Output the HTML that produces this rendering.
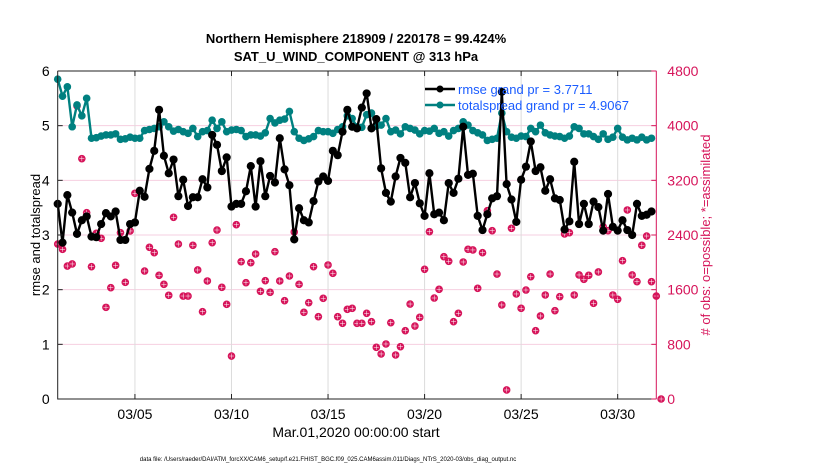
<!DOCTYPE html>
<html><head><meta charset="utf-8">
<style>
html,body{margin:0;padding:0;background:#fff;}
svg{display:block;font-family:"Liberation Sans",Arial,sans-serif;}
</style></head>
<body>
<svg id="chart" width="830" height="470" viewBox="0 0 830 470">
<text x="356" y="43" text-anchor="middle" font-size="13" font-weight="bold">Northern Hemisphere 218909 / 220178 = 99.424%</text>
<text x="356" y="61" text-anchor="middle" font-size="13" font-weight="bold">SAT_U_WIND_COMPONENT @ 313 hPa</text>
<g id="grid"></g>
<g id="series"></g>
<g id="axes"></g>
<text transform="translate(40,235) rotate(-90)" text-anchor="middle" font-size="13">rmse and totalspread</text>
<text transform="translate(710,235) rotate(-90)" text-anchor="middle" font-size="13" fill="#d6145a"># of obs: o=possible; *=assimilated</text>
<text x="356" y="437" text-anchor="middle" font-size="14">Mar.01,2020 00:00:00 start</text>
<text x="328" y="461" text-anchor="middle" font-size="6">data file: /Users/raeder/DAI/ATM_forcXX/CAM6_setup/f.e21.FHIST_BGC.f09_025.CAM6assim.011/Diags_NTrS_2020-03/obs_diag_output.nc</text>
<g>
<line x1="425" y1="89" x2="455" y2="89" stroke="#000" stroke-width="2.5"/>
<circle cx="440" cy="89" r="3.5" fill="#000"/>
<text x="458" y="94" font-size="13" fill="#1a5cff">rmse grand pr = 3.7711</text>
<line x1="425" y1="105" x2="455" y2="105" stroke="#008080" stroke-width="2.5"/>
<circle cx="440" cy="105" r="3.5" fill="#008080"/>
<text x="458" y="110" font-size="13" fill="#1a5cff">totalspread grand pr = 4.9067</text>
</g>
</svg>
<script>
const rmse=[3.57,2.86,3.73,3.41,3.02,3.27,3.34,2.97,2.96,3.20,3.40,3.34,3.43,2.91,2.91,3.20,3.23,3.81,3.70,4.21,4.54,5.29,4.45,4.13,4.38,3.71,
4.01,3.53,3.69,3.69,4.02,3.87,4.83,4.65,4.17,4.42,3.52,3.57,3.57,3.80,4.26,3.52,4.35,3.71,4.08,3.96,4.77,4.20,3.91,2.92,3.49,
3.27,3.23,3.62,3.98,4.07,3.99,4.54,4.46,4.89,5.29,4.98,4.95,5.33,5.59,4.95,5.12,4.22,3.77,3.61,4.07,4.41,4.32,3.69,3.95,3.58,3.35,4.13,3.38,3.41,3.27,3.95,3.77,4.03,4.98,
4.10,4.12,3.35,3.09,3.38,3.67,3.71,5.62,3.93,3.65,3.24,4.01,4.25,4.71,4.17,4.24,3.81,4.02,3.67,3.64,3.10,3.25,4.34,3.20,3.57,3.20,3.61,3.51,3.08,3.75,3.15,3.08,3.27,3.09,3.00,3.57,3.35,3.37,3.43];
const spread=[5.85,5.54,5.71,4.98,5.38,5.18,5.50,4.77,4.78,4.81,4.83,4.83,4.85,4.75,4.76,4.79,4.77,4.77,4.91,4.93,4.95,4.98,5.07,4.98,4.90,4.93,
4.89,4.86,4.95,4.80,4.89,4.91,5.10,4.95,5.07,4.89,4.92,4.93,4.91,4.80,4.83,4.83,4.81,4.87,5.13,5.05,5.10,5.12,5.26,4.89,4.77,
4.73,4.76,4.80,4.91,4.89,4.89,4.86,4.93,4.98,5.18,5.13,4.98,4.97,5.20,5.23,4.99,5.01,5.13,4.89,4.92,4.85,4.98,4.95,4.92,4.85,4.91,4.90,4.95,4.86,4.89,4.81,4.91,4.95,5.07,
5.01,4.91,4.87,4.83,4.73,4.75,4.77,5.23,4.89,4.79,4.77,4.81,4.80,4.95,4.89,5.01,4.87,4.83,4.81,4.80,4.77,4.81,4.98,4.95,4.85,4.85,4.80,4.75,4.85,4.75,4.79,4.95,4.79,4.74,4.77,4.74,4.79,4.74,4.77];
const obsCount=[2268,2190,1946,1976,4288,3517,2727,1937,2424,2351,1341,1629,1956,2434,1707,2459,3010,3049,1873,2220,2141,1810,1678,1517,2659,2268,
1507,1507,2249,1888,1278,1727,2288,2473,1634,1385,629,2551,2010,1702,1995,2122,1576,1732,1561,2156,1727,1439,1800,2444,1678,
1268,1410,1937,1205,1473,1961,1839,1205,1107,1312,1327,1107,1107,1254,1132,756,659,805,1117,644,766,1000,1390,1068,1195,1898,2449,1478,1605,2083,2015,1132,1254,2005,
2190,2181,1620,2141,2756,2463,1829,1376,132,2498,1537,1327,1595,1790,1000,1215,1522,1829,1293,1498,2415,2434,1522,1815,1751,1810,1400,1859,2522,2463,1522,1459,2024,2766,1815,1717,2249,2385,1717,1507,0];
const xTickDays=[5,10,15,20,25,30];
const xTickLabels=["03/05","03/10","03/15","03/20","03/25","03/30"];
const yLeftTicks=[0,1,2,3,4,5,6];
const yRightTicks=[0,800,1600,2400,3200,4000,4800];
const stepDays=0.25, startDay=1;

const NS="http://www.w3.org/2000/svg";
const L=57.7,R=656.3,T=71,B=399;
const xS=d=>L+(d-1)*(R-L)/31;
const yL=v=>B-v*(B-T)/6;
const yR=v=>B-v*(B-T)/4800;
function mk(tag,attrs,parent){const e=document.createElementNS(NS,tag);for(const k in attrs)e.setAttribute(k,attrs[k]);parent.appendChild(e);return e;}
const grid=document.getElementById('grid'),ser=document.getElementById('series'),ax=document.getElementById('axes');
const PINK="#d6145a";
yLeftTicks.forEach(v=>{if(v>0&&v<6){const g=mk('line',{x1:L,x2:R,y1:yL(v),y2:yL(v),stroke:'#f6cfe0','stroke-width':1},grid);

}});
xTickDays.forEach(d=>{const g=mk('line',{x1:xS(d),x2:xS(d),y1:T,y2:B,stroke:'#dcdcdc','stroke-width':1},grid);

});
const fr=mk('path',{d:`M${L},${T}H${R}M${L},${T}V${B}H${R}`,stroke:'#222',fill:'none','stroke-width':1},ax);


const ra=mk('line',{x1:R,x2:R,y1:T,y2:B,stroke:PINK,'stroke-width':1},ax);


yLeftTicks.forEach(v=>{const t=mk('text',{x:L-8,y:yL(v)+5,'text-anchor':'end','font-size':14},ax);t.textContent=v;


mk('line',{x1:L,x2:L+5,y1:yL(v),y2:yL(v),stroke:'#222'},ax);});
yRightTicks.forEach(v=>{const t=mk('text',{x:R+11,y:yR(v)+5,'font-size':14,fill:PINK},ax);t.textContent=v;


mk('line',{x1:R-5,x2:R,y1:yR(v),y2:yR(v),stroke:PINK},ax);});
xTickDays.forEach((d,i)=>{const t=mk('text',{x:xS(d),y:B+20,'text-anchor':'middle','font-size':14},ax);t.textContent=xTickLabels[i];


mk('line',{x1:xS(d),x2:xS(d),y1:B,y2:B-5,stroke:'#222'},ax);mk('line',{x1:xS(d),x2:xS(d),y1:T,y2:T+5,stroke:'#222'},ax);});
const dayOf=i=>startDay+i*stepDays;
obsCount.forEach((v,i)=>{const cx=xS(dayOf(i)),cy=yR(v);
const g=mk('g',{},ser);


mk('circle',{cx:cx,cy:cy,r:3.8,fill:PINK},g);
mk('path',{d:`M${cx-2.5},${cy}H${cx+2.5}M${cx},${cy-2.5}V${cy+2.5}`,stroke:'#fff','stroke-width':0.5},g);});
function line(arr,color,name,r){
const pts=arr.map((v,i)=>`${xS(dayOf(i)).toFixed(1)},${yL(v).toFixed(1)}`).join(' ');
const p=mk('polyline',{points:pts,fill:'none',stroke:color,'stroke-width':2.4},ser);


arr.forEach((v,i)=>{const c=mk('circle',{cx:xS(dayOf(i)),cy:yL(v),r:r,fill:color},ser);

});
}
line(spread,'#008080','totalspread',3.8);
line(rmse,'#000000','rmse',4.1);
</script>
</body></html>
